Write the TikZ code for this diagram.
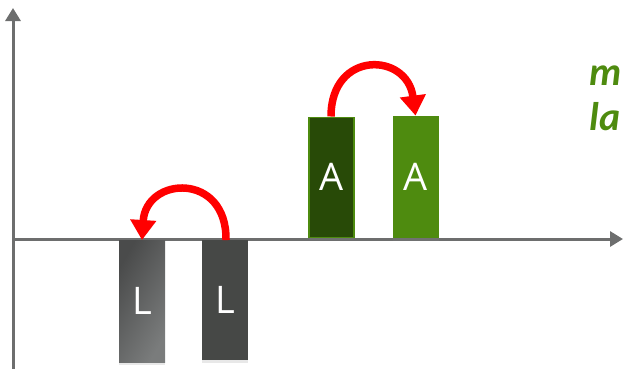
\documentclass[tikz,border=0pt]{standalone}
\usepackage{fontspec}
\setmainfont{Open Sans}
\newfontfamily\notefont{Carlito}
\usetikzlibrary{arrows.meta,shadows}
\definecolor{axisgray}{HTML}{6D6E6E}
\definecolor{lfirst}{HTML}{4A4B4B}
\definecolor{lfirstlight}{HTML}{7A7C7C}
\definecolor{lsecond}{HTML}{464846}
\definecolor{adark}{HTML}{284A07}
\definecolor{agreen}{HTML}{4E8B0F}
\definecolor{jumpred}{HTML}{FF0000}
\tikzset{
  axisline/.style={draw=axisgray, line width=3pt, -{Triangle[width=15pt,length=13pt]}},
  bar/.style={rectangle, inner sep=0pt, minimum width=46pt, text=white,
              font=\fontsize{38}{40}\selectfont,
              drop shadow={opacity=0.18, shadow xshift=0pt, shadow yshift=-3pt}},
  jump/.style={draw=jumpred, line width=7.5pt, -{Triangle[width=25pt,length=20pt]}},
  notetext/.style={text=agreen, font=\notefont\bfseries\itshape\fontsize{40}{45}\selectfont,
                   anchor=north west, align=left, inner sep=0pt}
}
\begin{document}
\begin{tikzpicture}[x=1pt, y=-1pt]
  \useasboundingbox (0,0) rectangle (623,368);
  \clip (0,0) rectangle (623,368);

  % axes
  \coordinate (origin) at (13,239);
  \coordinate (ytop) at (13,8);
  \coordinate (ybottom) at (13,370);
  \coordinate (xend) at (623,239);
  \draw[axisline] (ybottom) -- (ytop);
  \draw[axisline] (origin) -- (xend);

  % bars below the axis
  \node[bar, minimum height=122pt, anchor=north, shading=axis,
        left color=lfirst, right color=lfirstlight, shading angle=60] (l1) at (142,240) {L};
  \node[bar, minimum height=120pt, anchor=north, fill=lsecond] (l2) at (225,240) {L};

  % bars above the axis
  \node[bar, minimum height=120pt, anchor=south, fill=adark,
        draw=agreen, line width=1.5pt, minimum width=45pt] (a1) at (331.5,238) {A};
  \node[bar, minimum height=122pt, anchor=south, fill=agreen] (a2) at (415.5,238) {A};

  % swap arrows
  \draw[jump] ([xshift=-0.5pt]a1.north) .. controls (331,50) and (407,52) .. (a2.north);
  \draw[jump] ([xshift=1pt]l2.north) .. controls (227,172) and (146,176) .. (l1.north);

  % side note
  \node[notetext] (note) at (589,66) {m\\la};
\end{tikzpicture}
\end{document}
